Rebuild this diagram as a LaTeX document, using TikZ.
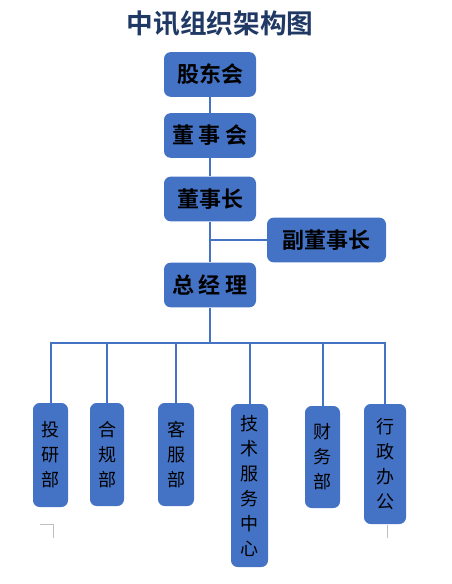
\documentclass[tikz,border=0pt]{standalone}
\usepackage{fontspec}
\newfontfamily\cjk{Noto Sans CJK SC}[BoldFont={Noto Sans CJK SC Bold}]
\usetikzlibrary{positioning}
\definecolor{cblue}{HTML}{4472C4}
\definecolor{cnavy}{HTML}{1F3864}
\definecolor{cmarkgrey}{HTML}{BFBFBF}
\tikzset{
  every picture/.style={font=\cjk},
  top/.style={fill=cblue, rounded corners=5pt, inner sep=0pt, minimum width=69pt, minimum height=33.5pt, font=\cjk\bfseries\fontsize{16.5}{19}\selectfont},
  dept/.style={fill=cblue, rounded corners=5pt, align=center, inner sep=0pt, minimum width=26.25pt, font=\cjk\fontsize{13.5}{18.75}\selectfont},
  link/.style={draw=cblue, line width=1.5pt},
  title/.style={text=cnavy, font=\cjk\bfseries\fontsize{20}{23}\selectfont},
  cornermark/.style={draw=cmarkgrey, line width=0.6pt},
}

\begin{document}
\begin{tikzpicture}[x=0.75pt, y=-0.75pt]
  \useasboundingbox (0,0) rectangle (452,584);
  \node[title] (title) at (220,24) {中讯组织架构图};
  % top chain
  \node[top] (gdh) at (210,74.5) {股东会};
  \node[top] (dsh) at (210,135.5) {董 事 会};
  \node[top] (dsz) at (210,199) {董事长};
  \node[top, minimum width=89.25pt] (fdsz) at (326.5,240) {副董事长};
  \node[top] (zjl) at (210,285) {总 经 理};
  \coordinate (vj) at (210,240);
  \coordinate (bus) at (210,343);
  % departments
  \node[dept, minimum height=78pt] (tyb) at (50.5,455) {投\\研\\部};
  \node[dept, minimum width=25.5pt, minimum height=77.25pt] (hgb) at (107,454.5) {合\\规\\部};
  \node[dept, minimum width=27pt, minimum height=77.25pt] (kfb) at (176,454.5) {客\\服\\部};
  \node[dept, minimum width=27.75pt, minimum height=122.25pt] (jsfw) at (249.5,485.5) {技\\术\\服\\务\\中\\心};
  \node[dept, minimum height=76.5pt] (cwb) at (322.5,457) {财\\务\\部};
  \node[dept, minimum width=31.5pt, minimum height=90pt] (xzbg) at (385,464) {行\\政\\办\\公};
  % connectors
  \draw[link] (gdh) -- (dsh);
  \draw[link] (dsh) -- (dsz);
  \draw[link] (dsz) -- (zjl);
  \draw[link] (vj) -- (fdsz.west);
  \draw[link] (zjl) -- (bus);
  \foreach \d in {tyb, hgb, kfb, jsfw, cwb, xzbg}
    \draw[link] (bus) -| (\d.north);
  % page marks
  \draw[cornermark] (40,524) -- (53,524) -- (53,538);
  \draw[cornermark] (387,525) -- (387,538);
\end{tikzpicture}
\end{document}
